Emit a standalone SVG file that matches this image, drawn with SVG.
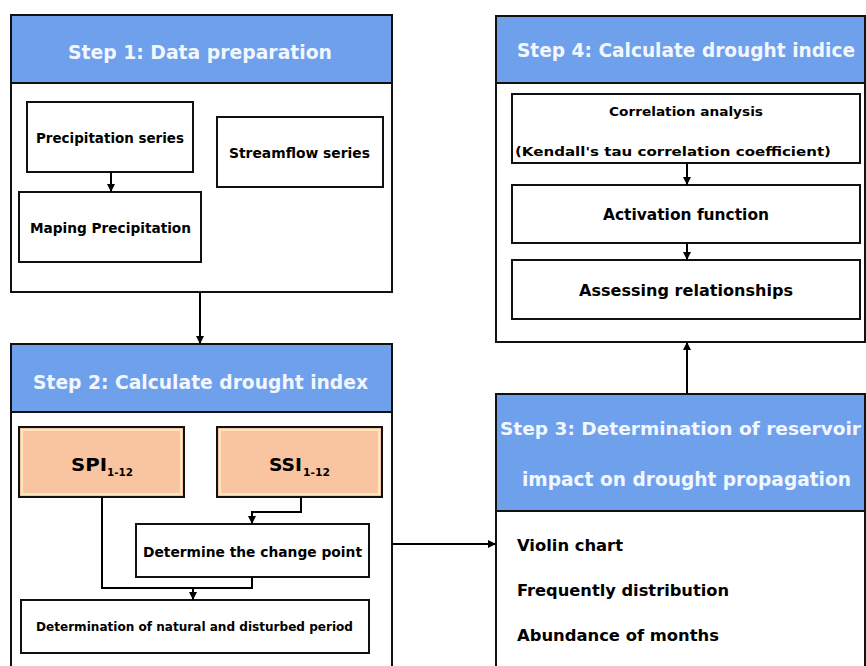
<svg xmlns="http://www.w3.org/2000/svg" width="866" height="666" viewBox="0 0 866 666">
<defs>
<marker id="ah" markerWidth="8" markerHeight="8" refX="8" refY="4" orient="auto" markerUnits="userSpaceOnUse">
<path d="M0,0 L8,4 L0,8 z" fill="#000"/>
</marker>
</defs>
<style>
.box{fill:#fff;stroke:#111;stroke-width:2}
.hdr{fill:#6FA0EC;stroke:#111;stroke-width:2}
.or{fill:#F9C4A0;stroke:#111;stroke-width:2}
.orin{fill:none;stroke:#FBE6C4;stroke-width:2}
.ht{font-family:"DejaVu Sans",Verdana,sans-serif;font-weight:bold;font-size:19px;fill:#F2F7FF}
.t{font-family:"DejaVu Sans",Verdana,sans-serif;font-weight:bold;font-size:14px;fill:#000}
.c{stroke:#000;stroke-width:2;fill:none}
</style>
<rect x="0" y="0" width="866" height="666" fill="#fff"/>

<g id="step1">
<rect class="box" x="11" y="15" width="381" height="277"/>
<rect class="hdr" x="11" y="15" width="381" height="68"/>
<text class="ht" x="200" y="59" text-anchor="middle" textLength="264" lengthAdjust="spacingAndGlyphs">Step 1: Data preparation</text>
</g>
<g id="precip">
<rect class="box" x="27" y="102" width="166" height="70"/>
<text class="t" x="110" y="143" text-anchor="middle" textLength="148" lengthAdjust="spacingAndGlyphs">Precipitation series</text>
</g>
<g id="streamflow">
<rect class="box" x="217" y="117" width="166" height="70"/>
<text class="t" x="299.5" y="158" text-anchor="middle" textLength="141" lengthAdjust="spacingAndGlyphs">Streamflow series</text>
</g>
<g id="maping">
<rect class="box" x="19" y="192" width="182" height="70"/>
<text class="t" x="110.5" y="233" text-anchor="middle" textLength="161" lengthAdjust="spacingAndGlyphs">Maping Precipitation</text>
</g>

<g id="step2">
<rect class="box" x="11" y="344" width="381" height="340"/>
<rect class="hdr" x="11" y="344" width="381" height="68"/>
<text class="ht" x="200.5" y="389" text-anchor="middle" textLength="335" lengthAdjust="spacingAndGlyphs">Step 2: Calculate drought index</text>
</g>
<g id="spi">
<rect class="or" x="19" y="427" width="165" height="70"/>
<rect class="orin" x="22" y="430" width="159" height="64"/>
<text class="t" x="71" y="471" style="font-size:18px" textLength="36" lengthAdjust="spacingAndGlyphs">SPI</text>
<text class="t" x="107" y="476" style="font-size:11px" textLength="26" lengthAdjust="spacingAndGlyphs">1-12</text>
</g>
<g id="ssi">
<rect class="or" x="217" y="427" width="165" height="70"/>
<rect class="orin" x="220" y="430" width="159" height="64"/>
<text class="t" x="269" y="471" style="font-size:18px" textLength="33" lengthAdjust="spacingAndGlyphs">SSI</text>
<text class="t" x="303" y="476" style="font-size:11px" textLength="27" lengthAdjust="spacingAndGlyphs">1-12</text>
</g>
<g id="changepoint">
<rect class="box" x="136" y="524" width="233" height="53"/>
<text class="t" x="252.5" y="557" text-anchor="middle" textLength="219" lengthAdjust="spacingAndGlyphs">Determine the change point</text>
</g>
<g id="determination">
<rect class="box" x="21" y="600" width="348" height="53"/>
<text class="t" x="194.5" y="631" text-anchor="middle" style="font-size:12px" textLength="317" lengthAdjust="spacingAndGlyphs">Determination of natural and disturbed period</text>
</g>

<g id="step3">
<rect class="box" x="496" y="394" width="369" height="300"/>
<rect class="hdr" x="496" y="394" width="369" height="117"/>
<text class="ht" x="500" y="435" style="font-size:18px" textLength="361" lengthAdjust="spacingAndGlyphs">Step 3: Determination of reservoir</text>
<text class="ht" x="686.5" y="486" text-anchor="middle" textLength="329" lengthAdjust="spacingAndGlyphs">impact on drought propagation</text>
<text class="t" x="517" y="551" style="font-size:16px" textLength="106" lengthAdjust="spacingAndGlyphs">Violin chart</text>
<text class="t" x="517" y="596" style="font-size:16px" textLength="212" lengthAdjust="spacingAndGlyphs">Frequently distribution</text>
<text class="t" x="517" y="641" style="font-size:16px" textLength="202" lengthAdjust="spacingAndGlyphs">Abundance of months</text>
</g>

<g id="step4">
<rect class="box" x="496" y="16" width="369" height="326"/>
<rect class="hdr" x="496" y="16" width="369" height="67"/>
<text class="ht" x="686" y="57" text-anchor="middle" textLength="338" lengthAdjust="spacingAndGlyphs">Step 4: Calculate drought indice</text>
</g>
<g id="correlation">
<rect class="box" x="512" y="94" width="348" height="69"/>
<text class="t" x="686" y="116" text-anchor="middle" style="font-size:13px" textLength="154" lengthAdjust="spacingAndGlyphs">Correlation analysis</text>
<text class="t" x="673" y="156" text-anchor="middle" style="font-size:13px" textLength="316" lengthAdjust="spacingAndGlyphs">(Kendall's tau correlation coefficient)</text>
</g>
<g id="activation">
<rect class="box" x="512" y="185" width="348" height="58"/>
<text class="t" x="686" y="220" text-anchor="middle" style="font-size:15px" textLength="166" lengthAdjust="spacingAndGlyphs">Activation function</text>
</g>
<g id="assessing">
<rect class="box" x="512" y="260" width="348" height="59"/>
<text class="t" x="686" y="296" text-anchor="middle" style="font-size:16px" textLength="214" lengthAdjust="spacingAndGlyphs">Assessing relationships</text>
</g>

<g id="connectors">
<path class="c" d="M111,172 V192" marker-end="url(#ah)"/>
<path class="c" d="M200,292 V344" marker-end="url(#ah)"/>
<path class="c" d="M687,163 V185" marker-end="url(#ah)"/>
<path class="c" d="M687,243 V260" marker-end="url(#ah)"/>
<path class="c" d="M687,394 V342" marker-end="url(#ah)"/>
<path class="c" d="M392,544 H496" marker-end="url(#ah)"/>
<path class="c" d="M301,497 V512 H252 V524" marker-end="url(#ah)"/>
<path class="c" d="M102,497 V588 H252 V577"/>
<path class="c" d="M193,588 V600" marker-end="url(#ah)"/>
</g>
</svg>
